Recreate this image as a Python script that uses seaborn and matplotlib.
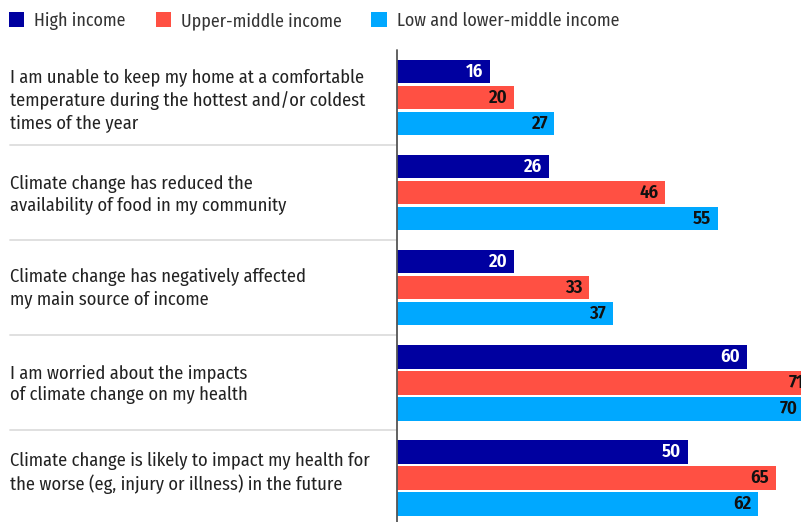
import matplotlib
matplotlib.use("Agg")
import matplotlib.pyplot as plt
from matplotlib.lines import Line2D
from matplotlib.patches import Patch
from matplotlib.transforms import blended_transform_factory, offset_copy
import pandas as pd
import seaborn as sns

# Survey statements (one group of bars each)
statements = [
    "I am unable to keep my home at a comfortable\ntemperature during the hottest and/or coldest\ntimes of the year",
    "Climate change has reduced the\navailability of food in my community",
    "Climate change has negatively affected\nmy main source of income",
    "I am worried about the impacts\nof climate change on my health",
    "Climate change is likely to impact my health for\nthe worse (eg, injury or illness) in the future",
]
income_groups = ["High income", "Upper-middle income", "Low and lower-middle income"]

# Share of respondents agreeing, %
high_income = [16, 26, 20, 60, 50]
upper_middle = [20, 46, 33, 71, 65]
low_lower_middle = [27, 55, 37, 70, 62]

colors = ["#0000a0", "#ff5043", "#00a8ff"]
label_colors = ["white", "#111111", "#111111"]

sns.set_theme(style="white")
FONT = ["Fira Sans Condensed", "Roboto", "DejaVu Sans"]
plt.rcParams["font.family"] = FONT

rows = []
for grp, vals in zip(income_groups, [high_income, upper_middle, low_lower_middle]):
    for s, v in zip(statements, vals):
        rows.append({"statement": s, "income": grp, "value": v})
df = pd.DataFrame(rows)

W, H = 801, 522
fig = plt.figure(figsize=(W / 100, H / 100), dpi=100)
ax = fig.add_axes([397 / W, 0, 404 / W, 472 / H])

sns.barplot(data=df, y="statement", x="value", hue="income",
            order=statements, hue_order=income_groups, palette=colors,
            orient="h", width=0.82, gap=0.1, saturation=1, linewidth=0,
            legend=False, ax=ax)

ax.set_xlim(0, 69.3)
ax.set_ylim(-0.5 + 472 / 95.1, -0.5)
for sp in ax.spines.values():
    sp.set_visible(False)
ax.set_xticks([])
ax.set_yticks([])
ax.set_xlabel("")
ax.set_ylabel("")

# Value labels inside the end of each bar
for cont, col in zip(ax.containers, label_colors):
    for bar in cont:
        w = bar.get_width()
        y = bar.get_y() + bar.get_height() / 2
        ax.annotate(f"{w:.0f}", (w, y), xytext=(-7, 0), textcoords="offset pixels",
                    ha="right", va="center", fontsize=13.5, fontweight=600,
                    color=col, annotation_clip=False)

# Zero line
ax.axvline(0, color="#555555", lw=1.3, zorder=5, clip_on=False)

# Statement labels on the left, with small vertical nudges (pixels, up is positive)
tr = blended_transform_factory(fig.transFigure, ax.transData)
nudge_px = [-3, -2, 0, -1, 5]
for i, (s, dy) in enumerate(zip(statements, nudge_px)):
    t = offset_copy(tr, fig=fig, x=0, y=dy, units="dots")
    fig.text(10 / W, i, s, transform=t, ha="left", va="center",
             fontsize=13.3, color="#222222", linespacing=1.28)

# Light separators between groups
for i in range(len(statements) - 1):
    fig.add_artist(Line2D([10 / W, 1], [i + 0.5, i + 0.5], transform=tr,
                          color="#dddddd", lw=1.3, zorder=0))

handles = [Patch(facecolor=c, edgecolor="none", linewidth=0) for c in colors]
fig.legend(handles, income_groups, loc="upper left", bbox_to_anchor=(9 / W, 1 - 12 / H),
           ncol=3, frameon=False, fontsize=12.9, handlelength=0.84, handleheight=0.91,
           handletextpad=0.56, columnspacing=1.68, borderpad=0, borderaxespad=0,
           labelcolor="#333333")

fig.savefig("out.png", dpi=100)
